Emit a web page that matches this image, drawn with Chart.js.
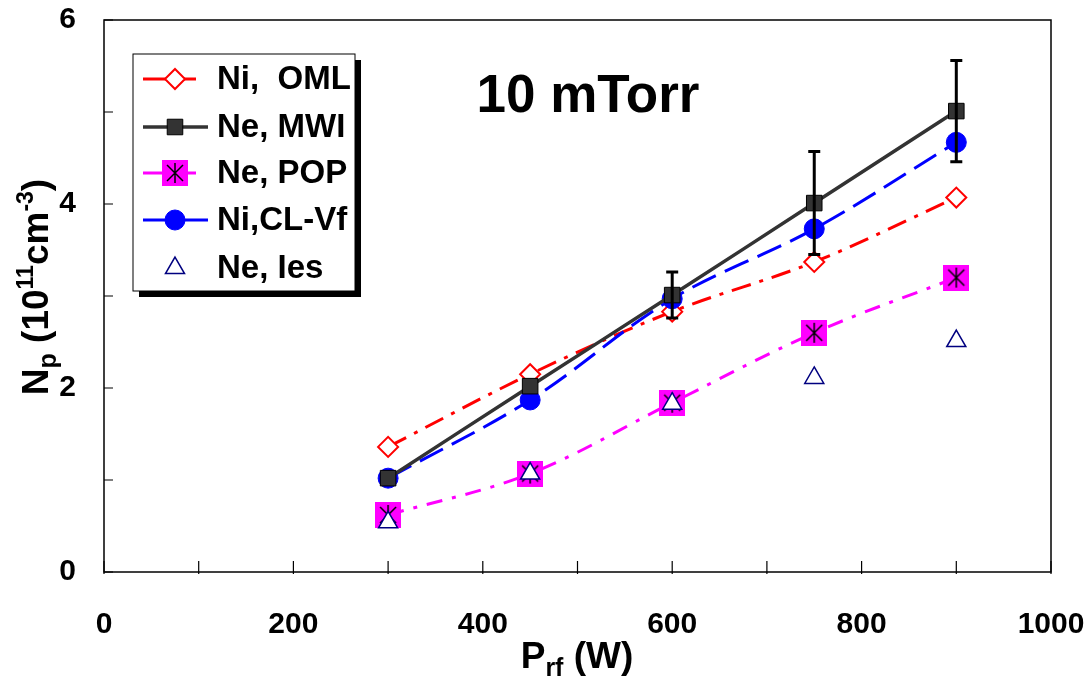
<!DOCTYPE html>
<html>
<head>
<meta charset="utf-8">
<script src="https://cdn.jsdelivr.net/npm/chart.js@4/dist/chart.umd.min.js"></script>
<style>
    html, body { margin: 0; padding: 0; background: #fff; }
    #wrap { width: 1091px; height: 679px; }
</style>
</head>
<body>
<div id="wrap"><canvas id="myChart" width="1091" height="679"></canvas></div>
<script>
// values
const powers = [300, 450, 600, 750, 900];
const niOML = [1.36, 2.15, 2.83, 3.37, 4.07];
const neMWI = [1.02, 2.02, 3.01, 4.01, 5.01];
const mwiErr = [0, 0, 0.25, 0.56, 0.55];
const nePOP = [0.62, 1.07, 1.84, 2.6, 3.2];
const niCLVf = [1.02, 1.87, 2.97, 3.73, 4.67];
const neIes = [0.54, 1.07, 1.83, 2.11, 2.51];
const seriesNames = ['Ni,  OML', 'Ne, MWI', 'Ne, POP', 'Ni,CL-Vf', 'Ne, Ies'];
const xTickLabels = [0, 200, 400, 600, 800, 1000];
const yTickLabels = [0, 2, 4, 6];
const panelTitle = '10 mTorr';

const FONT = '"Liberation Sans", Arial, sans-serif';

function toPoints(ys) {
    return powers.map((x, i) => ({ x: x, y: ys[i] }));
}

// magenta square with black asterisk (Excel style marker)
function makePopMarker() {
    const c = document.createElement('canvas');
    c.width = 26;
    c.height = 26;
    const g = c.getContext('2d');
    g.fillStyle = '#ff00ff';
    g.fillRect(0, 0, 26, 26);
    g.strokeStyle = '#000';
    g.lineWidth = 1.5;
    g.beginPath();
    g.moveTo(13, 3); g.lineTo(13, 23);
    g.moveTo(5, 5); g.lineTo(21, 21);
    g.moveTo(21, 5); g.lineTo(5, 21);
    g.stroke();
    return c;
}
const popMarker = makePopMarker();

const styles = [
    { color: '#ff0000', dash: [20, 9, 4, 9], width: 3, point: 'rectRot', radius: 10, fill: '#ffffff', pborder: '#ff0000', pwidth: 2 },
    { color: '#333333', dash: [], width: 3.5, point: 'rect', radius: 11, fill: '#333333', pborder: '#000000', pwidth: 1 },
    { color: '#ff00ff', dash: [16, 10, 4, 10], width: 3, point: popMarker, radius: 13, fill: '#ff00ff', pborder: '#ff00ff', pwidth: 1 },
    { color: '#0000ff', dash: [26, 10], width: 3, point: 'circle', radius: 10, fill: '#0000ff', pborder: '#0000ff', pwidth: 1 },
    { color: '#000080', dash: [], width: 0, point: 'triangle', radius: 11, fill: '#ffffff', pborder: '#000080', pwidth: 1.5 }
];
const seriesData = [niOML, neMWI, nePOP, niCLVf, neIes];
const drawOrder = [5, 2, 1, 3, 0];

const datasets = seriesData.map((ys, i) => {
    const s = styles[i];
    return {
        label: seriesNames[i],
        data: toPoints(ys),
        borderColor: s.color,
        borderWidth: s.width,
        borderDash: s.dash,
        showLine: s.width > 0,
        tension: 0.35,
        pointStyle: s.point,
        pointRadius: s.radius,
        pointHoverRadius: s.radius,
        pointBackgroundColor: s.fill,
        pointBorderColor: s.pborder,
        pointBorderWidth: s.pwidth,
        order: drawOrder[i]
    };
});

function drawRich(ctx, parts, x, y) {
    let total = 0;
    parts.forEach(p => {
        ctx.font = 'bold ' + p.size + 'px ' + FONT;
        p.w = ctx.measureText(p.t).width;
        total += p.w;
    });
    let cx = x - total / 2;
    ctx.textAlign = 'left';
    ctx.textBaseline = 'alphabetic';
    parts.forEach(p => {
        ctx.font = 'bold ' + p.size + 'px ' + FONT;
        ctx.fillText(p.t, cx, y + (p.dy || 0));
        cx += p.w;
    });
}

// keep the plot box where the reference has it
function noScalePadding(s) {
    s.paddingTop = 0;
    s.paddingBottom = 0;
    s.paddingLeft = 0;
    s.paddingRight = 0;
}

const decorPlugin = {
    id: 'decor',
    afterDraw(chart) {
        const ctx = chart.ctx;
        const area = chart.chartArea;
        const xs = chart.scales.x;
        const ys = chart.scales.y;
        ctx.save();

        // frame
        ctx.strokeStyle = '#000';
        ctx.lineWidth = 1.5;
        ctx.setLineDash([]);
        ctx.strokeRect(area.left, area.top, area.right - area.left, area.bottom - area.top);

        // inward ticks
        ctx.lineWidth = 1.2;
        ctx.beginPath();
        for (let v = 0; v <= 6; v++) {
            const py = ys.getPixelForValue(v);
            ctx.moveTo(area.left, py);
            ctx.lineTo(area.left + 9, py);
        }
        for (let v = 0; v <= 1000; v += 100) {
            const px = xs.getPixelForValue(v);
            ctx.moveTo(px, area.bottom + 2);
            ctx.lineTo(px, area.bottom - 11);
        }
        ctx.stroke();

        // axis titles
        ctx.fillStyle = '#000';
        drawRich(ctx, [
            { t: 'P', size: 37 },
            { t: 'rf', size: 25, dy: 8 },
            { t: ' (W)', size: 37 }
        ], 577, 668);

        ctx.save();
        ctx.translate(48, 287);
        ctx.rotate(-Math.PI / 2);
        drawRich(ctx, [
            { t: 'N', size: 37 },
            { t: 'p', size: 25, dy: 8 },
            { t: ' (10', size: 37 },
            { t: '11', size: 23, dy: -15 },
            { t: 'cm', size: 37 },
            { t: '-3', size: 23, dy: -15 },
            { t: ')', size: 37 }
        ], 0, 0);
        ctx.restore();

        // panel title
        ctx.font = 'bold 53px ' + FONT;
        ctx.textAlign = 'center';
        ctx.textBaseline = 'alphabetic';
        ctx.fillText(panelTitle, 588, 112);

        // legend box with shadow
        const lx = 133, ly = 54, lw = 222, lh = 237;
        ctx.fillStyle = '#000';
        ctx.fillRect(lx + 6, ly + 6, lw, lh);
        ctx.fillStyle = '#fff';
        ctx.fillRect(lx, ly, lw, lh);
        ctx.strokeStyle = '#000';
        ctx.lineWidth = 1;
        ctx.strokeRect(lx, ly, lw, lh);

        const rowY = [79, 127, 173, 220, 268];
        seriesNames.forEach((name, i) => {
            const s = styles[i];
            const cy = rowY[i];
            if (s.width > 0) {
                ctx.strokeStyle = s.color;
                ctx.lineWidth = s.width;
                ctx.setLineDash([]);
                ctx.beginPath();
                ctx.moveTo(143, cy);
                ctx.lineTo(i === 0 || i === 2 ? 196 : 208, cy);
                ctx.stroke();
            }
            ctx.fillStyle = s.fill;
            ctx.strokeStyle = s.pborder;
            ctx.lineWidth = s.pwidth;
            Chart.helpers.drawPoint(ctx, {
                pointStyle: s.point,
                radius: s.radius,
                rotation: 0,
                borderWidth: s.pwidth
            }, 175, cy);
            ctx.fillStyle = '#000';
            ctx.font = 'bold 33px ' + FONT;
            ctx.textAlign = 'left';
            ctx.textBaseline = 'middle';
            ctx.fillText(name, 217, cy + 1);
        });

        ctx.restore();
    },
    afterDatasetsDraw(chart) {
        // error bars on the MWI series
        const ctx = chart.ctx;
        const xs = chart.scales.x;
        const ys = chart.scales.y;
        ctx.save();
        ctx.strokeStyle = '#000';
        ctx.lineWidth = 3;
        ctx.setLineDash([]);
        powers.forEach((p, i) => {
            if (!mwiErr[i]) return;
            const px = xs.getPixelForValue(p);
            const top = ys.getPixelForValue(neMWI[i] + mwiErr[i]);
            const bot = ys.getPixelForValue(neMWI[i] - mwiErr[i]);
            ctx.beginPath();
            ctx.moveTo(px, top);
            ctx.lineTo(px, bot);
            ctx.moveTo(px - 6, top);
            ctx.lineTo(px + 6, top);
            ctx.moveTo(px - 6, bot);
            ctx.lineTo(px + 6, bot);
            ctx.stroke();
        });
        ctx.restore();
    }
};

const ctx = document.getElementById('myChart').getContext('2d');
const chart = new Chart(ctx, {
    type: 'scatter',
    data: { datasets: datasets },
    options: {
        responsive: false,
        animation: false,
        events: [],
        layout: { padding: { top: 20, right: 40, left: 0, bottom: 0 } },
        plugins: {
            legend: { display: false },
            tooltip: { enabled: false }
        },
        scales: {
            x: {
                type: 'linear',
                min: 0,
                max: 1000,
                grid: { display: false },
                border: { display: false },
                afterFit: s => { s.height = 107; noScalePadding(s); },
                ticks: {
                    stepSize: 100,
                    autoSkip: false,
                    maxRotation: 0,
                    padding: 27,
                    color: '#000',
                    font: { family: FONT, size: 30, weight: 'bold' },
                    callback: v => xTickLabels.includes(v) ? String(v) : ''
                }
            },
            y: {
                type: 'linear',
                min: 0,
                max: 6,
                grid: { display: false },
                border: { display: false },
                afterFit: s => { s.width = 104; noScalePadding(s); },
                ticks: {
                    stepSize: 1,
                    autoSkip: false,
                    padding: 20,
                    color: '#000',
                    font: { family: FONT, size: 30, weight: 'bold' },
                    callback: v => yTickLabels.includes(v) ? String(v) : ''
                }
            }
        }
    },
    plugins: [decorPlugin]
});
</script>
</body>
</html>
